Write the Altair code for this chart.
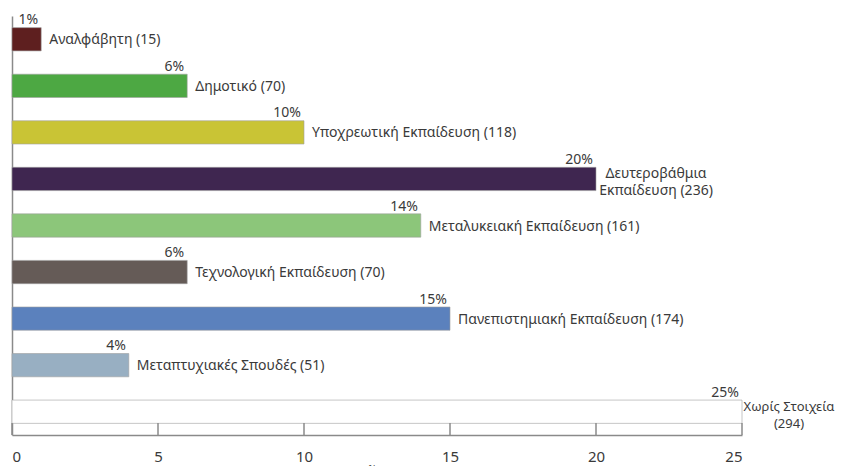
import altair as alt
import pandas as pd

categories = [
    "Αναλφάβητη", "Δημοτικό", "Υποχρεωτική Εκπαίδευση", "Δευτεροβάθμια Εκπαίδευση",
    "Μεταλυκειακή Εκπαίδευση", "Τεχνολογική Εκπαίδευση", "Πανεπιστημιακή Εκπαίδευση",
    "Μεταπτυχιακές Σπουδές", "Χωρίς Στοιχεία",
]
percents = [1, 6, 10, 20, 14, 6, 15, 4, 25]
counts = [15, 70, 118, 236, 161, 70, 174, 51, 294]
colors = ["#5E1F1F", "#4DA843", "#C9C435", "#3F2650", "#8CC67A",
          "#655B57", "#5B81BD", "#98AFC2", "#FFFFFF"]
# labels split over two lines in the original
two_line = {"Δευτεροβάθμια Εκπαίδευση": ["Δευτεροβάθμια", "Εκπαίδευση (236)"],
            "Χωρίς Στοιχεία": ["Χωρίς Στοιχεία", "(294)"]}
tick_values = [0, 5, 10, 15, 20, 25]

rows = []
for c, p, n, col in zip(categories, percents, counts, colors):
    rows.append({
        "cat": c, "pct": p, "n": n, "color": col,
        "pct_label": f"{p}%",
        "label": f"{c} ({n})",
        "multi": c in two_line,
        "last": c == categories[-1],
        "lines": two_line.get(c, [f"{c} ({n})"]),
    })
df = pd.DataFrame(rows)
ticks_df = pd.DataFrame({"t": tick_values})

FONT = "Noto Sans"
TXT = "#3a3a3a"
FS = 14

y_enc = alt.Y("cat:N", sort=categories,
              scale=alt.Scale(paddingInner=0.5, paddingOuter=0.25),
              axis=alt.Axis(labels=False, ticks=False, title=None, domain=True,
                            domainColor="#8a8a8a", domainWidth=1.5))
x_enc = alt.X("pct:Q", scale=alt.Scale(domain=[0, 25], nice=False),
              axis=alt.Axis(values=tick_values, tickSize=0, grid=False,
                            labelPadding=14, labelFontSize=15, labelColor=TXT,
                            labelFont=FONT, domainColor="#8a8a8a", domainWidth=1.5,
                            title="%", titleFontSize=10, titleFont=FONT,
                            titleFontWeight="normal", titleColor=TXT, titlePadding=0,
                            titleX=360))

base = alt.Chart(df)
ysort = alt.Y("cat:N", sort=categories)

bars = base.mark_bar(stroke="#a0a0a0", strokeWidth=0.6).encode(
    x=x_enc, y=y_enc,
    color=alt.Color("color:N", scale=None),
)

pct_text = base.mark_text(align="right", baseline="bottom", dx=-3, dy=-12,
                          font=FONT, fontSize=FS, color=TXT).encode(
    x="pct:Q", y=ysort, text="pct_label:N")

single = base.transform_filter("!datum.multi").mark_text(
    align="left", baseline="middle", dx=8, dy=1,
    font=FONT, fontSize=FS, color=TXT).encode(
    x="pct:Q", y=ysort, text="label:N")

multi = base.transform_filter("datum.multi && !datum.last").mark_text(
    align="center", baseline="middle", dx=60, dy=-5, lineHeight=17,
    font=FONT, fontSize=FS, color=TXT).encode(
    x="pct:Q", y=ysort, text="lines")

multi_last = base.transform_filter("datum.last").mark_text(
    align="center", baseline="middle", dx=47, dy=-5, lineHeight=17,
    font=FONT, fontSize=13, color=TXT).encode(
    x="pct:Q", y=ysort, text="lines")

tick_rules = alt.Chart(ticks_df).mark_rule(color="#8a8a8a", strokeWidth=1.5).encode(
    x="t:Q", y=alt.value(407), y2=alt.value(419))

chart = alt.layer(bars, tick_rules, pct_text, single, multi, multi_last).properties(
    width=730, height=419,
    autosize=alt.AutoSizeParams(type="none"),
    padding={"left": 4, "top": 8, "right": 96, "bottom": 31},
    background="#FFFFFF",
).configure_view(stroke=None)

chart.save("out.html", embed_options={"renderer": "svg", "actions": False})
